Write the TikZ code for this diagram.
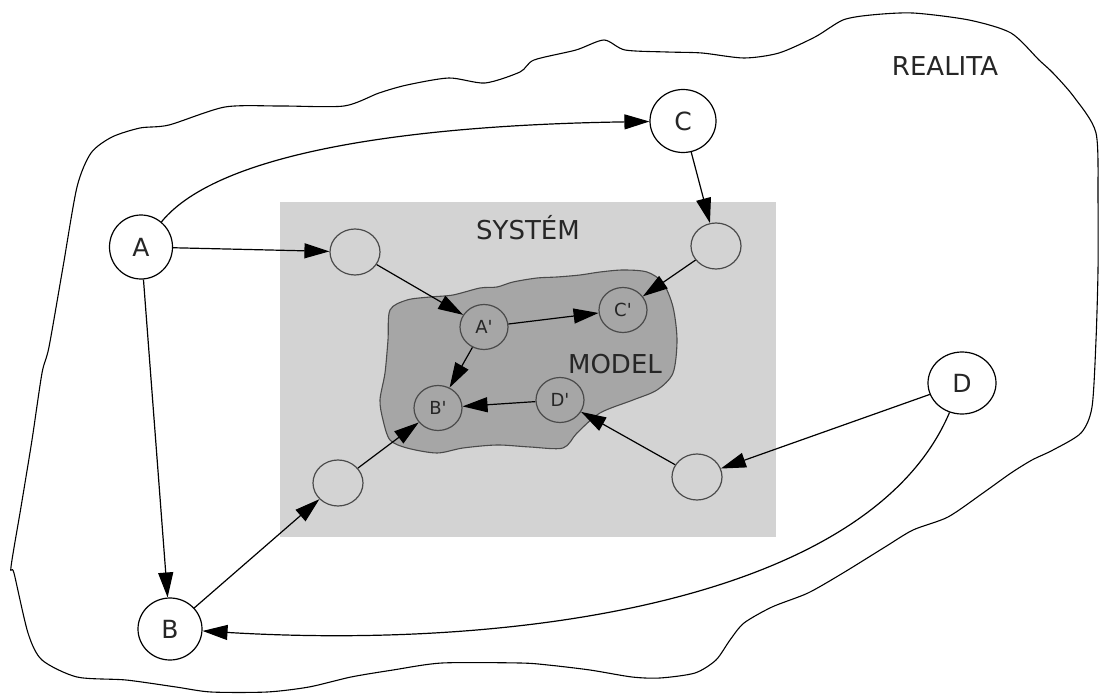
\documentclass[tikz,border=0pt]{standalone}
\usepackage{fontspec}
\setmainfont{DejaVu Sans}
\usetikzlibrary{arrows.meta,shapes.geometric}
\definecolor{sysgray}{HTML}{D3D3D3}
\definecolor{modgray}{HTML}{A6A6A6}
\definecolor{edgegray}{HTML}{4A4A4A}
\begin{document}
\begin{tikzpicture}[x=1pt,y=-1pt,
  conn/.style={draw=black,line width=1.2pt,-{Triangle[length=25pt,width=15pt]}},
  outer/.style={ellipse,draw=black,line width=1.2pt,fill=white,inner sep=0pt,text=black!85,font=\fontsize{25}{25}\selectfont},
  sysnode/.style={ellipse,draw=edgegray,line width=1.2pt,fill=sysgray,inner sep=0pt,minimum width=50pt,minimum height=46pt},
  modnode/.style={ellipse,draw=edgegray,line width=1.2pt,fill=modgray,inner sep=0pt,minimum width=48pt,minimum height=45pt,text=black!85,font=\fontsize{18}{18}\selectfont},
  lbl/.style={font=\fontsize{26}{26}\selectfont,text=black!85,inner sep=0pt}
]
\fill[white] (0,0) rectangle (1101,695);
\useasboundingbox (0,0) rectangle (1101,695);

% REALITA outline
\draw[line width=1.1pt] plot[smooth cycle,tension=0.45] coordinates {
(49,347) (63,267) (77,187) (91,153) (112,137) (140,128) (169,125) (225,107) (281,106) (344,106) (379,93) (407,85) (449,78) (485,83) (520,72) (534,60) (576,50) (604,40) (625,50) (667,52) (702,53) (744,58) (779,53) (815,37) (843,20) (871,15) (913,13) (969,20) (1011,33) (1039,60) (1053,73) (1074,97) (1096,133) (1098,200) (1098,270) (1096,340) (1092,407) (1081,433) (1053,450) (1032,460) (1011,473) (983,493) (948,517) (913,530) (885,547) (843,573) (808,593) (772,607) (744,623) (730,640) (716,660) (695,673) (660,678) (632,677) (590,670) (548,665) (520,663) (442,663) (393,670) (351,677) (309,687) (267,692) (211,692) (176,687) (126,680) (77,677) (42,660) (28,633) (14,573) (11,567) (21,507) (32,440) (42,373)};

% SYSTEM rectangle
\fill[sysgray] (280,202) rectangle (776,537);

% MODEL blob
\filldraw[fill=modgray,draw=edgegray,line width=1.1pt] plot[smooth cycle,tension=0.5] coordinates {
(390,310) (407,300) (430,297) (453,295) (480,288) (497,287) (513,282) (537,278) (557,277) (580,275) (600,272) (623,270) (647,272) (663,283) (673,307) (677,340) (673,373) (657,390) (633,400) (600,413) (577,433) (563,448) (530,447) (497,445) (463,448) (437,453) (407,448) (390,440) (383,420) (380,400) (385,373) (388,340)};

\node[lbl] (realita) at (945,66) {REALITA};
\node[lbl] (system) at (528,228) {SYSTÉM};
\node[lbl] (model) at (615,364) {MODEL};

% outer nodes
\node[outer,minimum width=63pt,minimum height=64pt] (A) at (141,247) {A};
\node[outer,minimum width=66pt,minimum height=63pt] (C) at (683,121) {C};
\node[outer,minimum width=64pt,minimum height=62pt] (B) at (170,629) {B};
\node[outer,minimum width=68pt,minimum height=62pt] (D) at (962,383) {D};

% system nodes
\node[sysnode] (s1) at (355,252) {};
\node[sysnode] (s2) at (716,246) {};
\node[sysnode] (s3) at (338,483) {};
\node[sysnode] (s4) at (697,477) {};

% model nodes
\node[modnode] (a1) at (484,327) {A\textquotesingle};
\node[modnode] (c1) at (623,310) {C\textquotesingle};
\node[modnode] (b1) at (438,408) {B\textquotesingle};
\node[modnode] (d1) at (560,400) {D\textquotesingle};

% connectors
\draw[conn] (A) .. controls (220,150) and (420,125) .. (C);
\draw[conn] (A) -- (s1);
\draw[conn] (A) -- (B);
\draw[conn] (C) -- (s2);
\draw[conn] (s1) -- (a1);
\draw[conn] (s2) -- (c1);
\draw[conn] (a1) -- (c1);
\draw[conn] (a1) -- (b1);
\draw[conn] (d1) -- (b1);
\draw[conn] (s4) -- (d1);
\draw[conn] (D) -- (s4);
\draw[conn] (s3) -- (b1);
\draw[conn] (B) -- (s3);
\draw[conn] (D) .. controls (870,600) and (520,650) .. (B);
\end{tikzpicture}
\end{document}
